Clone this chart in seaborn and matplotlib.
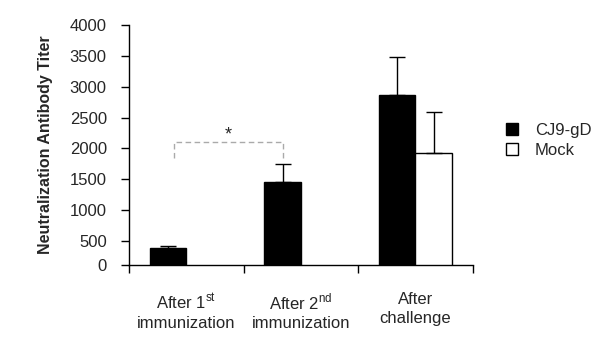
import matplotlib
matplotlib.use("Agg")
import matplotlib.pyplot as plt
import seaborn as sns
import pandas as pd

# values
stages = ["After 1$^{\\mathrm{st}}$\nimmunization",
          "After 2$^{\\mathrm{nd}}$\nimmunization",
          "After\nchallenge"]
groups = ["CJ9-gD", "Mock"]
cj9_mean = [395, 1450, 2870]
cj9_err = [30, 300, 610]
mock_mean = [0, 0, 1920]
mock_err = [0, 0, 675]
y_ticks = [0, 500, 1000, 1500, 2000, 2500, 3000, 3500, 4000]

df = pd.DataFrame({
    "stage": stages * 2,
    "group": [groups[0]] * 3 + [groups[1]] * 3,
    "titer": cj9_mean + mock_mean,
})

sns.set_style("white")
plt.rcParams["font.family"] = ["Liberation Sans", "DejaVu Sans"]
plt.rcParams["mathtext.fontset"] = "custom"
plt.rcParams["mathtext.rm"] = "Liberation Sans"

fig = plt.figure(figsize=(6, 3.47), dpi=100)
ax = fig.add_axes([0.215, 0.2363, 0.573, 0.692])

sns.barplot(data=df, x="stage", y="titer", hue="group",
            palette=["black", "white"], edgecolor="black", linewidth=1,
            width=0.64, ax=ax)

# upper error bars only
for cont, errs in zip(ax.containers, [cj9_err, mock_err]):
    for bar, e in zip(cont, errs):
        if e > 0:
            x = bar.get_x() + bar.get_width() / 2
            ax.errorbar(x, bar.get_height(), yerr=[[0], [e]], fmt="none",
                        ecolor="black", elinewidth=1, capsize=6, capthick=1)

# the original axis floor sits a bit above the "0" spacing
floor = 112
ax.set_ylim(floor, 4000)
ax.set_yticks([floor] + y_ticks[1:])
ax.set_yticklabels([str(t) for t in y_ticks], fontsize=12)
ax.set_xlim(-0.5, 2.5)
ax.set_xticks([-0.5, 0.5, 1.5, 2.5], minor=True)
ax.tick_params(axis="x", which="major", length=0, pad=19.5, labelsize=12)
ax.tick_params(axis="x", which="minor", length=6, width=1, direction="out",
               color="black", bottom=True)
ax.tick_params(axis="y", length=6, width=1, direction="out", color="black",
               left=True, pad=10)
for lbl in ax.get_xticklabels():
    lbl.set_ha("center")
    lbl.set_multialignment("center")
    lbl.set_linespacing(1.3)

sns.despine(ax=ax)
for s in ["left", "bottom"]:
    ax.spines[s].set_color("black")
    ax.spines[s].set_linewidth(1)

ax.set_xlabel("")
ax.set_ylabel("Neutralization Antibody Titer", fontsize=11.5,
              fontweight="bold", labelpad=12)

# significance bracket
ax.plot([-0.11, -0.11, 0.84, 0.84], [1840, 2110, 2110, 1840],
        color="#aaaaaa", linestyle="--", linewidth=1, dashes=(4, 2.5))
ax.text(0.365, 2220, "*", ha="center", va="center", fontsize=13)

handles, labels = ax.get_legend_handles_labels()
ax.legend(handles, labels, loc="center left", bbox_to_anchor=(0.818, 0.596),
          bbox_transform=fig.transFigure, frameon=False, fontsize=12,
          handlelength=0.75, handleheight=0.75, handletextpad=1.0,
          labelspacing=0.3)

fig.savefig("out.png", dpi=100)
